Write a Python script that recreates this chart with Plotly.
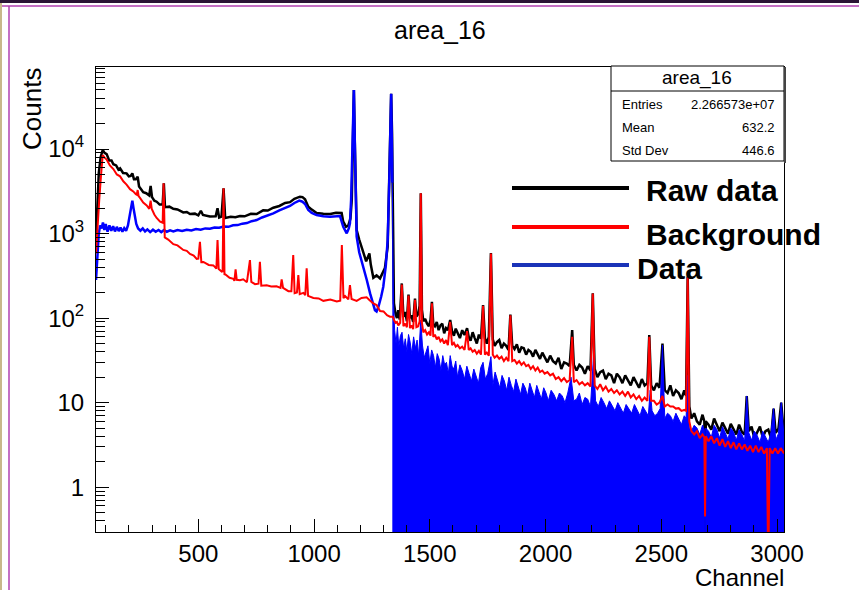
import plotly.graph_objects as go

# ---------------- data ----------------
raw_ch = [58, 64, 70, 78, 87, 95, 104, 115, 125, 133, 145, 155, 162, 175, 190, 200, 208, 215, 222, 230,
          238, 244, 252, 262, 275, 288, 294, 300, 310, 320, 333, 346, 351, 356, 375, 392, 410, 435, 450, 464,
          485, 500, 511, 520, 550, 575, 583, 590, 600, 609, 616, 640, 660, 680, 700, 727, 752, 780, 800, 824,
          850, 875, 896, 915, 939, 950, 961, 975, 990, 1011, 1040, 1070, 1095, 1119, 1126, 1138, 1148, 1157, 1163, 1167,
          1172, 1176, 1180, 1184, 1195, 1213, 1225, 1239, 1245, 1256, 1270, 1285, 1296, 1306, 1318, 1325, 1329, 1333, 1337, 1341,
          1345, 1352, 1358, 1364, 1370, 1379, 1386, 1394, 1401, 1408, 1414, 1420, 1428, 1436, 1442, 1450, 1456, 1461, 1466, 1472,
          1480, 1488, 1496, 1503, 1509, 1515, 1522, 1530, 1538, 1546, 1554, 1562, 1570, 1578, 1588, 1596, 1604, 1612, 1620, 1630,
          1640, 1650, 1661, 1668, 1676, 1685, 1694, 1703, 1712, 1721, 1730, 1738, 1746, 1755, 1764, 1772, 1780, 1790, 1800, 1810,
          1820, 1830, 1840, 1848, 1856, 1866, 1876, 1886, 1896, 1906, 1916, 1926, 1936, 1946, 1956, 1966, 1976, 1986, 1996, 2008,
          2020, 2032, 2044, 2056, 2068, 2080, 2092, 2104, 2115, 2122, 2134, 2146, 2158, 2170, 2182, 2194, 2204, 2212, 2224, 2236,
          2248, 2260, 2272, 2284, 2296, 2308, 2320, 2332, 2344, 2356, 2368, 2380, 2392, 2404, 2416, 2428, 2440, 2448, 2456, 2468,
          2480, 2492, 2505, 2515, 2527, 2539, 2551, 2563, 2575, 2587, 2599, 2607, 2614, 2621, 2630, 2642, 2654, 2666, 2678, 2686,
          2689, 2692, 2704, 2716, 2728, 2740, 2752, 2764, 2776, 2788, 2800, 2812, 2824, 2836, 2848, 2860, 2869, 2878, 2890, 2902,
          2914, 2926, 2938, 2950, 2962, 2974, 2985, 2994, 3006, 3018, 3030]
raw_counts = [850, 2500, 5200, 8000, 9730, 9000, 8700, 7300, 7300, 6600, 6400, 5700, 5900, 5200, 5150, 4750, 4800, 5150, 4400, 4400,
              4700, 3600, 3400, 3080, 3000, 2820, 3650, 2700, 2450, 2380, 2200, 2200, 3930, 2050, 2080, 1960, 1930, 1780, 1800, 1700,
              1720, 1640, 1860, 1660, 1590, 1600, 1990, 1550, 1590, 3430, 1530, 1580, 1560, 1610, 1600, 1710, 1700, 1880, 1870, 2020,
              2120, 2300, 2350, 2580, 2730, 2700, 2540, 2080, 1920, 1750, 1720, 1700, 1760, 1750, 1380, 1205, 1250, 1500, 2500, 12000,
              50000, 12000, 4300, 1100, 850, 582, 470, 582, 430, 300, 320, 295, 350, 390, 700, 4300, 15000, 45000, 15000, 1500,
              150, 112, 100, 124, 96, 257, 104, 118, 92, 190, 100, 108, 90, 170, 104, 112, 140, 2990, 125, 92,
              98, 86, 80, 95, 156, 84, 80, 90, 72, 82, 86, 66, 76, 72, 95, 70, 62, 75, 66, 58,
              72, 63, 76, 60, 54, 68, 58, 50, 64, 57, 143, 58, 50, 60, 590, 56, 47, 52, 55, 44,
              50, 47, 42, 110, 47, 43, 49, 39, 45, 44, 37, 42, 40, 35, 42, 37, 33, 39, 34, 30,
              36, 31, 29, 34, 25, 30, 29, 27, 72, 28, 24, 28, 26, 22, 27, 24, 196, 25, 20, 23,
              24, 19, 22, 21, 17, 22, 20, 17, 21, 18, 16, 20, 17, 15, 19, 16, 17, 63, 16, 14,
              17, 15, 50, 14, 13, 16, 12, 14, 13, 11, 14, 12, 308, 9, 6.5, 7.5, 6, 5.5, 7.2, 6,
              0.1, 6, 5.5, 4.8, 6.5, 5.5, 4.6, 5.8, 5, 4.3, 5.6, 4.8, 4.2, 5.5, 4.5, 4.2, 12, 4.6, 5.2, 3.8,
              4.5, 5.2, 3.9, 4.6, 4.8, 3.8, 8.5, 4.4, 4.9, 10, 4]

bg_ch = [58, 65, 72, 80, 87, 95, 104, 118, 133, 148, 162, 176, 190, 205, 219, 230, 234, 238, 242, 248,
         262, 277, 288, 294, 299, 310, 320, 335, 346, 350, 353, 355, 370, 392, 410, 435, 450, 464, 480, 493,
         500, 507, 513, 522, 545, 565, 578, 583, 588, 601, 605, 609, 613, 617, 635, 651, 656, 661, 666, 680,
         694, 710, 723, 729, 745, 760, 766, 772, 795, 815, 838, 855, 860, 866, 889, 902, 910, 916, 926, 932,
         938, 954, 962, 968, 974, 997, 1020, 1040, 1070, 1098, 1113, 1120, 1127, 1134, 1148, 1155, 1162, 1184, 1205, 1227,
         1240, 1256, 1270, 1285, 1300, 1315, 1328, 1340, 1346, 1352, 1358, 1364, 1372, 1379, 1386, 1394, 1401, 1408, 1414, 1420,
         1428, 1436, 1442, 1450, 1456, 1461, 1466, 1472, 1480, 1488, 1496, 1503, 1509, 1515, 1522, 1530, 1538, 1546, 1554, 1562,
         1570, 1578, 1588, 1596, 1604, 1612, 1620, 1630, 1640, 1650, 1661, 1668, 1676, 1685, 1694, 1703, 1712, 1721, 1730, 1738,
         1746, 1755, 1764, 1772, 1780, 1790, 1800, 1810, 1820, 1830, 1840, 1848, 1856, 1866, 1876, 1886, 1896, 1906, 1916, 1926,
         1936, 1946, 1956, 1966, 1976, 1986, 1996, 2008, 2020, 2032, 2044, 2056, 2068, 2080, 2092, 2104, 2115, 2122, 2134, 2146,
         2158, 2170, 2182, 2194, 2204, 2212, 2224, 2236, 2248, 2260, 2272, 2284, 2296, 2308, 2320, 2332, 2344, 2356, 2368, 2380,
         2392, 2404, 2416, 2428, 2440, 2448, 2456, 2468, 2480, 2492, 2505, 2515, 2527, 2539, 2551, 2563, 2575, 2587, 2599, 2607,
         2614, 2621, 2630, 2642, 2654, 2666, 2678, 2686, 2689, 2692, 2704, 2716, 2728, 2740, 2752, 2764, 2776, 2788, 2800, 2812,
         2824, 2836, 2848, 2860, 2872, 2884, 2896, 2908, 2920, 2932, 2944, 2956, 2962, 2968, 2980, 2992, 3004, 3016, 3030]
bg_counts = [582, 1500, 2500, 5000, 8490, 7900, 7500, 6400, 5800, 5000, 4750, 4150, 3800, 3350, 3150, 2920, 2880, 3270, 2780, 2640,
             2330, 2150, 1960, 2450, 1950, 1680, 1530, 1380, 1340, 3930, 1000, 900, 850, 750, 725, 640, 625, 575, 550, 500,
             505, 800, 460, 462, 425, 420, 385, 838, 380, 355, 358, 3430, 330, 328, 300, 292, 276, 377, 284, 280,
             288, 266, 485, 268, 252, 255, 464, 242, 244, 236, 238, 228, 287, 228, 208, 208, 556, 197, 201, 323,
             192, 199, 187, 387, 183, 173, 171, 160, 166, 157, 161, 731, 172, 182, 167, 246, 168, 160, 173, 176,
             163, 149, 143, 121, 120, 108, 104, 104, 94, 88, 90, 82, 88, 250, 80, 86, 78, 185, 76, 82,
             74, 165, 78, 80, 92, 2990, 88, 68, 72, 64, 68, 62, 150, 60, 64, 56, 60, 53, 56, 50,
             55, 48, 90, 48, 51, 46, 48, 44, 46, 42, 70, 42, 44, 40, 42, 38, 41, 37, 140, 37,
             39, 36, 582, 37, 34, 36, 33, 35, 31, 34, 31, 108, 31, 32, 29, 31, 28, 30, 27, 28,
             25, 27, 24, 26, 23, 24, 22, 23, 21, 22, 19, 20, 18, 19.5, 17.5, 18.5, 60, 17.5, 18.5, 16.5,
             17.5, 16, 17, 15.5, 195, 16, 14.5, 16.5, 14, 15.5, 13.5, 14.5, 13, 14, 12.5, 13.5, 12, 13.5, 11.5, 12.5,
             11, 12, 10.5, 11.5, 10.5, 60, 10.5, 10.5, 9.5, 10, 12, 9, 9.5, 9, 9, 8.5, 8.6, 8, 8.2, 8,
             307, 6, 4.6, 4.2, 4.6, 3.8, 4.2, 3.9, 0.45, 4, 3.5, 4, 3.3, 3.8, 3.1, 3.7, 3, 3.5, 2.9, 3.4,
             2.8, 3.3, 2.8, 3.2, 2.7, 3.1, 2.6, 3.1, 2.6, 3, 2.5, 2.9, 0.1, 2.9, 2.5, 2.9, 2.5, 2.9, 2.5]

data_ch = [58, 64, 70, 76, 82, 88, 94, 100, 108, 116, 124, 132, 140, 148, 156, 164, 172, 180, 188, 196,
           204, 210, 215, 220, 226, 232, 240, 250, 260, 270, 280, 292, 304, 316, 328, 340, 352, 364, 378, 392,
           410, 430, 450, 470, 490, 510, 530, 550, 570, 590, 610, 630, 650, 670, 690, 710, 730, 752, 775, 800,
           824, 850, 875, 896, 915, 936, 950, 961, 975, 990, 1011, 1040, 1069, 1090, 1112, 1126, 1141, 1150, 1155, 1160,
           1164, 1168, 1172, 1176, 1180, 1184, 1195, 1213, 1228, 1242, 1253, 1263, 1270, 1278, 1290, 1299, 1310, 1318, 1325, 1329,
           1333, 1337, 1338, 1343, 1348, 1354, 1360, 1366, 1373, 1380, 1387, 1394, 1401, 1408, 1415, 1422, 1430, 1438, 1445, 1452,
           1461, 1468, 1476, 1484, 1492, 1500, 1508, 1516, 1524, 1532, 1540, 1548, 1556, 1564, 1572, 1580, 1588, 1596, 1604, 1612,
           1620, 1630, 1640, 1650, 1660, 1670, 1680, 1690, 1700, 1710, 1720, 1730, 1740, 1750, 1764, 1772, 1782, 1792, 1802, 1812,
           1822, 1832, 1842, 1852, 1862, 1872, 1882, 1892, 1902, 1912, 1922, 1932, 1942, 1952, 1962, 1972, 1982, 1992, 2002, 2012,
           2024, 2036, 2048, 2060, 2072, 2084, 2096, 2110, 2122, 2134, 2146, 2158, 2170, 2182, 2194, 2207, 2216, 2228, 2240, 2252,
           2264, 2276, 2288, 2300, 2312, 2324, 2336, 2348, 2360, 2372, 2384, 2396, 2408, 2420, 2432, 2444, 2452, 2460, 2472, 2484,
           2495, 2505, 2515, 2527, 2539, 2551, 2563, 2575, 2587, 2599, 2607, 2614, 2621, 2630, 2642, 2654, 2666, 2678, 2686, 2689,
           2692, 2704, 2716, 2728, 2740, 2752, 2764, 2776, 2788, 2800, 2812, 2824, 2836, 2848, 2860, 2869, 2878, 2890, 2902, 2914,
           2926, 2938, 2950, 2962, 2974, 2985, 2994, 3006, 3018, 3030]
data_counts = [283, 600, 1000, 1250, 1150, 1350, 1100, 1300, 1050, 1250, 1080, 1220, 1060, 1200, 1070, 1180, 1050, 1160, 1080, 1250,
               1700, 2100, 2450, 2000, 1600, 1300, 1150, 1080, 1150, 1060, 1120, 1040, 1110, 1050, 1100, 1040, 1100, 1050, 1090, 1060,
               1100, 1070, 1110, 1090, 1130, 1110, 1150, 1140, 1180, 1170, 1210, 1200, 1250, 1260, 1310, 1330, 1400, 1445, 1550, 1640,
               1730, 1880, 2000, 2120, 2300, 2450, 2380, 2235, 1900, 1750, 1655, 1600, 1580, 1600, 1610, 1205, 1005, 1150, 1320, 2500,
               6760, 25000, 50000, 12000, 3000, 920, 600, 405, 280, 196, 150, 124, 120, 136, 180, 235, 420, 838, 4300, 15000,
               45000, 8000, 4000, 160, 72, 50, 78, 46, 62, 68, 44, 57, 40, 64, 52, 38, 60, 44, 55, 36,
               95, 48, 34, 40, 47, 29, 42, 36, 26, 38, 33, 24, 36, 28, 30, 22, 36, 27, 25, 31,
               20, 28, 24, 19, 27, 22, 18, 25, 21, 17, 26, 30, 19, 22, 35, 16, 23, 19, 15, 21,
               18, 14, 20, 16, 13.5, 19, 15, 12.5, 17, 15, 12, 17, 14, 11.5, 16, 13, 11, 15, 13, 10.5,
               14, 12.5, 10.5, 13, 12, 10, 13, 20, 10.5, 11, 13, 9.5, 11.5, 11, 9, 35, 10.5, 9, 11.5, 10,
               8.5, 10.5, 9, 8, 10, 8.5, 7.5, 9.5, 8.5, 7.5, 9.5, 8, 7, 9, 8, 7, 14, 8, 7, 7.5,
               8.5, 48, 6.5, 7.5, 7, 6, 7.5, 6.5, 5.5, 7, 6.5, 21, 5, 4.6, 5.4, 5, 4.2, 5.4, 4.8, 0.1,
               5, 4.6, 3.9, 5.4, 4.8, 3.8, 5.2, 4.4, 3.7, 5, 4.5, 3.6, 4.8, 4.2, 3.5, 12, 4.4, 3.6, 4.6, 4.1,
               3.4, 4.6, 4, 3.4, 4.5, 8.5, 3.6, 4.3, 10, 4]

hist_title = "area_16"
stats_labels = ["Entries", "Mean", "Std Dev"]
stats_values = ["2.266573e+07", "632.2", "446.6"]
legend_labels = ["Raw data", "Background", "Data"]
x_ticks = [500, 1000, 1500, 2000, 2500, 3000]
y_ticks = [1, 10, 100, 1000, 10000]
y_ticktext = ["1", "10", "10<sup>2</sup>", "10<sup>3</sup>", "10<sup>4</sup>"]

# ---------------- geometry helpers (pixels -> paper) ----------------
W, H = 859, 590
L, R, T, B = 96, 784, 67, 532
def px(x):
    return (x - L) / (R - L)
def py(y):
    return (B - y) / (B - T)

FONT = "Liberation Sans, Arial, Helvetica, sans-serif"
BLUE = "#0000ff"

fig = go.Figure()
fig.add_trace(go.Scatter(x=raw_ch, y=raw_counts, mode="lines", line=dict(color="black", width=2.5),
                         showlegend=False, hoverinfo="skip"))

split = data_ch.index(1338)
fig.add_trace(go.Scatter(x=data_ch[:split + 1], y=data_counts[:split + 1], mode="lines",
                         line=dict(color=BLUE, width=2.5), showlegend=False, hoverinfo="skip"))
fig.add_trace(go.Scatter(x=data_ch[split:], y=data_counts[split:], mode="lines",
                         line=dict(color=BLUE, width=1), fill="tozeroy", fillcolor=BLUE,
                         showlegend=False, hoverinfo="skip"))
fig.add_trace(go.Scatter(x=bg_ch, y=bg_counts, mode="lines", line=dict(color="#ff0000", width=2),
                         showlegend=False, hoverinfo="skip"))

minor_y = [m * 10 ** e for e in range(-1, 5) for m in range(2, 10) if 0.29 < m * 10 ** e < 93000]

fig.update_layout(
    width=W, height=H,
    margin=dict(l=L, r=W - R, t=T, b=H - B, autoexpand=False),
    paper_bgcolor="white", plot_bgcolor="white",
    font=dict(family=FONT, color="black", size=24),
    showlegend=False,
    xaxis=dict(range=[58, 3030], tickvals=x_ticks, ticks="inside", ticklen=13, tickwidth=1,
               tickcolor="black", showline=True, linecolor="black", linewidth=1, mirror=True,
               showgrid=False, zeroline=False, tickfont=dict(size=24), ticklabelstandoff=0,
               minor=dict(dtick=100, tick0=0, ticks="inside", ticklen=7, tickcolor="black", showgrid=False)),
    yaxis=dict(type="log", range=[-0.53, 4.97], tickvals=y_ticks, ticktext=y_ticktext,
               ticks="inside", ticklen=13, tickwidth=1, tickcolor="black", showline=True,
               linecolor="black", linewidth=1, mirror=True, showgrid=False, zeroline=False,
               tickfont=dict(size=24), ticklabelstandoff=6,
               minor=dict(tickvals=minor_y, ticks="inside", ticklen=9, tickcolor="black", showgrid=False)),
)

shapes = []
# canvas decorations
shapes.append(dict(type="rect", xref="paper", yref="paper", x0=px(0), x1=px(W), y0=py(3), y1=py(0),
                   fillcolor="#2a1535", line=dict(width=0), layer="above"))
shapes.append(dict(type="line", xref="paper", yref="paper", x0=px(0), x1=px(W), y0=py(6), y1=py(6),
                   line=dict(color="#b040b0", width=1.5)))
shapes.append(dict(type="rect", xref="paper", yref="paper", x0=px(0), x1=px(2), y0=py(H), y1=py(3),
                   fillcolor="#c8b88a", line=dict(width=0)))
shapes.append(dict(type="line", xref="paper", yref="paper", x0=px(9), x1=px(9), y0=py(H), y1=py(6),
                   line=dict(color="#b040b0", width=1.5)))
# stats box
shapes.append(dict(type="rect", xref="paper", yref="paper", x0=px(611), x1=px(784), y0=py(161), y1=py(66),
                   fillcolor="white", line=dict(color="black", width=1), layer="above"))
shapes.append(dict(type="line", xref="paper", yref="paper", x0=px(611), x1=px(784), y0=py(91), y1=py(91),
                   line=dict(color="black", width=1), layer="above"))
shapes.append(dict(type="line", xref="paper", yref="paper", x0=px(785), x1=px(785), y0=py(163), y1=py(67),
                   line=dict(color="#444444", width=2), layer="above"))
# legend lines
leg_y = [188, 227, 265]
leg_col = ["black", "#ff0000", "#1a33b8"]
for yy, cc in zip(leg_y, leg_col):
    shapes.append(dict(type="line", xref="paper", yref="paper", x0=px(512), x1=px(629), y0=py(yy), y1=py(yy),
                       line=dict(color=cc, width=4), layer="above"))
fig.update_layout(shapes=shapes)

ann = []
ann.append(dict(text=hist_title, xref="paper", yref="paper", x=px(440), y=py(30), xanchor="center",
                yanchor="middle", showarrow=False, font=dict(size=25, family=FONT)))
ann.append(dict(text="Counts", xref="paper", yref="paper", x=px(32), y=py(66), xanchor="center",
                yanchor="top", textangle=-90, showarrow=False, font=dict(size=26, family=FONT)))
ann.append(dict(text="Channel", xref="paper", yref="paper", x=px(785), y=py(577), xanchor="right",
                yanchor="middle", showarrow=False, borderpad=0, font=dict(size=24, family=FONT)))
ann.append(dict(text=hist_title, xref="paper", yref="paper", x=px(697), y=py(78), xanchor="center",
                yanchor="middle", showarrow=False, font=dict(size=19, family=FONT)))
for lab, val, yy in zip(stats_labels, stats_values, [104, 127, 150]):
    ann.append(dict(text=lab, xref="paper", yref="paper", x=px(620), y=py(yy), xanchor="left",
                    yanchor="middle", showarrow=False, font=dict(size=13, family=FONT)))
    ann.append(dict(text=val, xref="paper", yref="paper", x=px(777), y=py(yy), xanchor="right",
                    yanchor="middle", showarrow=False, font=dict(size=13, family=FONT)))
for lab, xx, yy in zip(legend_labels, [644, 644, 635], [190, 234, 268]):
    ann.append(dict(text="<b>" + lab + "</b>", xref="paper", yref="paper", x=px(xx), y=py(yy),
                    xanchor="left", yanchor="middle", showarrow=False, font=dict(size=30, family=FONT)))
fig.update_layout(annotations=ann)

fig.write_html("out.html")
